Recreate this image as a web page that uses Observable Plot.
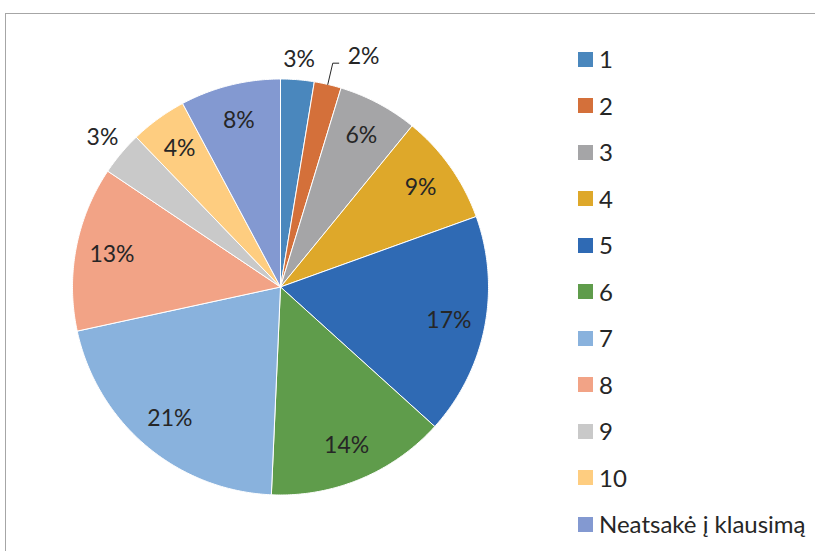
<!DOCTYPE html>
<html><head><meta charset="utf-8">
<script src="https://cdn.jsdelivr.net/npm/d3@7"></script>
<script src="https://cdn.jsdelivr.net/npm/@observablehq/plot@0.6"></script>
<style>
body{margin:0;background:#fff;}
#wrap{position:relative;width:815px;height:551px;overflow:hidden;font-family:Lato,"Noto Sans",sans-serif;}
#chart{position:absolute;left:0;top:0;}
#frame{position:absolute;left:5px;top:13px;width:900px;height:600px;border-top:1px solid #a6a6a6;border-left:1px solid #a6a6a6;pointer-events:none;}
#legend{position:absolute;left:578px;top:0;}
.item{position:absolute;left:0;display:flex;align-items:center;white-space:nowrap;font-size:24px;color:#262626;line-height:1;}
.sw{width:15px;height:15px;margin-right:6px;flex:none;}
</style></head>
<body><div id="wrap"><div id="chart"></div><div id="legend"></div><div id="frame"></div></div>
<script>
// ---- data ----
const categories = ["1","2","3","4","5","6","7","8","9","10","Neatsakė į klausimą"];
const shares = [2.6, 2.1, 6.2, 8.6, 17.2, 14.0, 20.9, 12.8, 3.4, 4.4, 7.8];
const colors = ["#4a87bd","#d4703a","#a5a5a7","#dea82a","#2f6ab4","#5f9c4b","#89b2dd","#f2a386","#c9c9c9","#fecd80","#8399d1"];
const calloutSlices = ["2"];

// ---- layout ----
const R = 208;           // radius in px (1 data unit)
const FS = 23;
const total = d3.sum(shares);
let cum = 0;
const slices = categories.map((c, i) => {
  const a0 = cum / total * 2 * Math.PI; cum += shares[i];
  const a1 = cum / total * 2 * Math.PI;
  return {c, v: shares[i], a0, a1, mid: (a0 + a1) / 2, label: Math.round(shares[i]) + "%"};
});
const poly = [];
slices.forEach(s => {
  poly.push({c: s.c, x: 0, y: 0});
  const n = Math.max(2, Math.ceil((s.a1 - s.a0) / (Math.PI / 360)));
  for (let k = 0; k <= n; k++) {
    const a = s.a0 + (s.a1 - s.a0) * k / n;
    poly.push({c: s.c, x: Math.sin(a), y: Math.cos(a)});
  }
  poly.push({c: s.c, x: 0, y: 0});
});

const inside = [], outside = [], callouts = [], leaders = [];
slices.forEach(s => {
  const sn = Math.sin(s.mid), cs = Math.cos(s.mid);
  if (calloutSlices.includes(s.c)) {
    const r1 = 1.105;
    const ex = sn * r1 + 6 / R, ey = cs * r1;
    leaders.push({c: s.c, x: sn, y: cs}, {c: s.c, x: sn * r1, y: ey}, {c: s.c, x: ex, y: ey});
    callouts.push({text: s.label, x: ex + 9 / R, y: ey});
  } else if (s.v < 4) {
    const w = s.label.length * 0.5 * FS;
    const off = 9 + (w / 2) * Math.abs(sn) + 10 * Math.abs(cs);
    const r = 1 + off / R;
    outside.push({text: s.label, x: sn * r, y: cs * r});
  } else {
    inside.push({text: s.label, x: sn * 0.825, y: cs * 0.825});
  }
});

const plot = Plot.plot({
  width: 815, height: 551,
  marginLeft: 72, marginRight: 327, marginTop: 78.5, marginBottom: 56.5,
  style: {background: "transparent", fontFamily: "Lato, 'Noto Sans', sans-serif"},
  x: {domain: [-1, 1], axis: null},
  y: {domain: [-1, 1], axis: null},
  color: {domain: categories, range: colors},
  marks: [
    Plot.line(poly, {x: "x", y: "y", z: "c", fill: "c", stroke: "white", strokeWidth: 1, strokeLinejoin: "miter"}),
    Plot.text(inside, {x: "x", y: "y", text: "text", fontSize: FS, fill: "#262626"}),
    Plot.text(outside, {x: "x", y: "y", text: "text", fontSize: FS, fill: "#262626"}),
    Plot.line(leaders, {x: "x", y: "y", z: "c", stroke: "#262626", strokeWidth: 1, strokeLinejoin: "miter"}),
    Plot.text(callouts, {x: "x", y: "y", text: "text", fontSize: FS, fill: "#262626", textAnchor: "start", dy: -7})
  ]
});
document.getElementById("chart").appendChild(plot);

// legend from the plot's color scale
const cs = plot.scale("color");
const lg = d3.select("#legend");
cs.domain.forEach((d, i) => {
  const it = lg.append("div").attr("class", "item").style("top", (59.3 + i * 46.5 - 12) + "px").style("height", "24px");
  it.append("div").attr("class", "sw").style("background", cs.range[i]);
  it.append("span").text(d);
});
</script>
</body></html>
